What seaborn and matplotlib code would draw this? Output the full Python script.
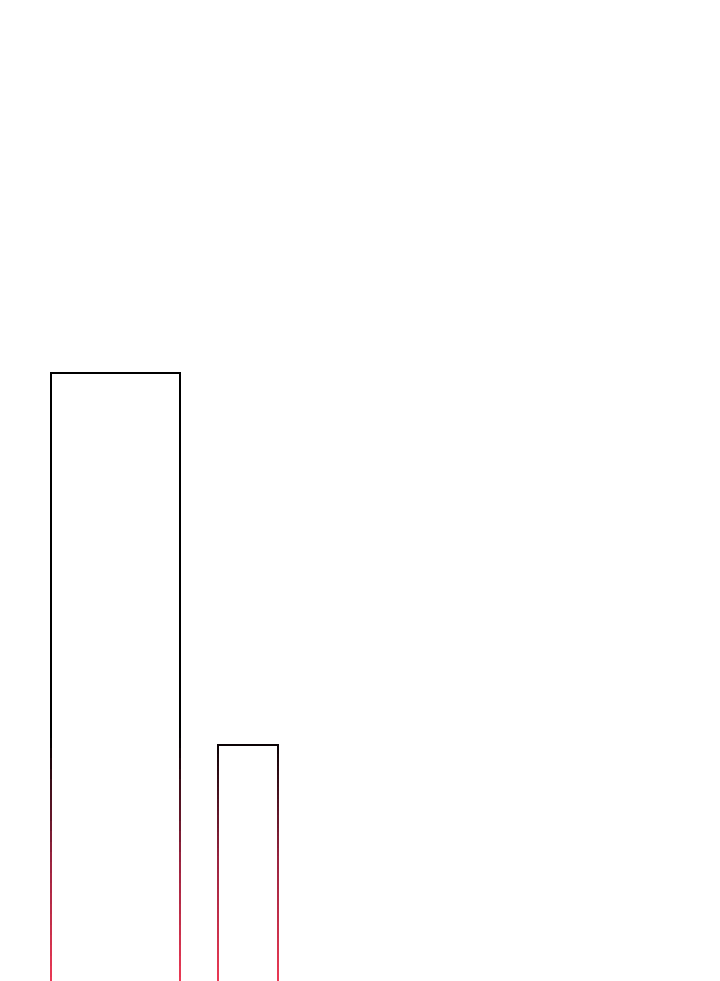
import numpy as np
import pandas as pd
import seaborn as sns
import matplotlib.pyplot as plt
from matplotlib.collections import LineCollection
from matplotlib.colors import LinearSegmentedColormap, Normalize

# Data: two bars of different width (histogram bins) and their heights
bin_edges = [1.7, 6.0, 7.25, 9.25]
bin_centers = [3.85, 8.25]
bar_values = [61.3, 24.1]

df = pd.DataFrame({"x": bin_centers, "value": bar_values})

sns.set_style("white")
fig = plt.figure(figsize=(7.2, 9.81), dpi=100)
ax = fig.add_axes([0, 0, 1, 1])

sns.histplot(data=df, x="x", weights="value", bins=bin_edges, stat="count",
             fill=False, element="bars", edgecolor="black", linewidth=1.4, ax=ax)

ax.set_xlim(0, 24)
ax.set_ylim(0.5, 98.6)
ax.set_axis_off()

# stroke gradient: black above, red-pink at the bottom edge
cmap = LinearSegmentedColormap.from_list("stroke", ["#ec3a55", "#9a2440", "#000000"])
norm = Normalize(vmin=0.5, vmax=25)

segments, seg_y = [], []
for patch in list(ax.patches):
    x0, y0 = patch.get_x(), patch.get_y()
    w, h = patch.get_width(), patch.get_height()
    patch.set_visible(False)
    if h <= 0:
        continue
    ys = np.linspace(y0, y0 + h, 60)
    for xx in (x0, x0 + w):
        for a, b in zip(ys[:-1], ys[1:]):
            segments.append([(xx, a), (xx, b)])
            seg_y.append((a + b) / 2)
    segments.append([(x0, y0 + h), (x0 + w, y0 + h)])
    seg_y.append(y0 + h)

colors = cmap(norm(np.clip(seg_y, 0.5, 25)))
lc = LineCollection(segments, colors=colors, linewidths=1.4, capstyle="projecting",
                    antialiased=False)
ax.add_collection(lc)

fig.savefig("out.png", dpi=100)
